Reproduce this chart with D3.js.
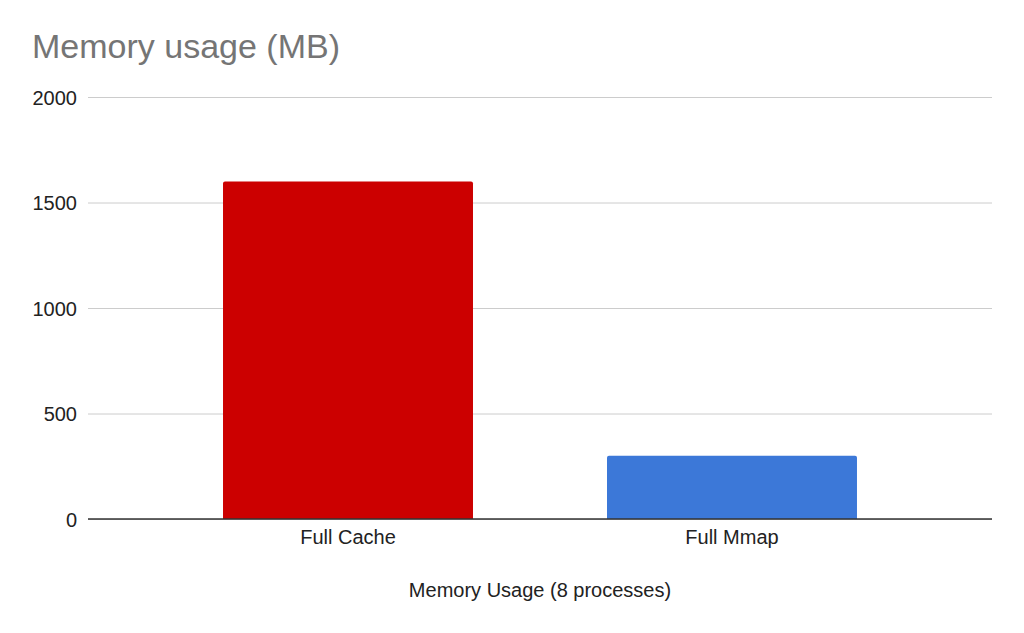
<!DOCTYPE html>
<html lang="en">
<head>
<meta charset="utf-8" />
<title>Memory usage (MB)</title>
<script src="https://d3js.org/d3.v7.min.js"></script>
<style>
  body { margin: 0; background: #fff; }
  svg { display: block; font-family: "Liberation Sans", Arial, sans-serif; }
  .grid line { stroke: #cccccc; stroke-width: 1; }
  .grid path { display: none; }
  .yaxis path, .yaxis line { display: none; }
  .yaxis text { fill: #222; font-size: 20px; }
  .xaxis path, .xaxis line { display: none; }
  .xaxis text { fill: #222; font-size: 20px; }
</style>
</head>
<body>
<svg width="1024" height="633"></svg>
<script>
// data
var categories = ["Full Cache", "Full Mmap"];
var values = [1600, 300];
var colors = ["#cc0000", "#3c78d8"];
var yTicks = [0, 500, 1000, 1500, 2000];

var svg = d3.select("svg"),
    plotLeft = 88, plotRight = 992, plotTop = 97, plotBottom = 519;

var x = d3.scaleBand().domain(categories).range([plotLeft, plotRight])
    .paddingInner(0.349).paddingOuter(0.3516);
var y = d3.scaleLinear().domain([0, 2000]).range([plotBottom, plotTop]);

// title
svg.append("text")
   .attr("x", 32).attr("y", 58)
   .attr("fill", "#757575")
   .style("font-size", "34px")
   .text("Memory usage (MB)");

// gridlines
svg.append("g").attr("class", "grid")
   .attr("transform", "translate(" + plotLeft + ",0)")
   .call(d3.axisLeft(y).tickValues(yTicks).tickSize(-(plotRight - plotLeft)).tickFormat(""));

// y labels
svg.append("g").attr("class", "yaxis")
   .attr("transform", "translate(" + (plotLeft - 11) + ",0)")
   .call(d3.axisLeft(y).tickValues(yTicks).tickSize(0).tickPadding(0).tickFormat(d3.format("d")))
   .selectAll("text").attr("dy", "0.35em");

// bars with rounded top corners
var r = 2;
svg.selectAll(".bar")
   .data(values)
   .enter().append("path")
   .attr("class", "bar")
   .attr("fill", function(d, i) { return colors[i]; })
   .attr("d", function(d, i) {
     var x0 = x(categories[i]), x1 = x0 + x.bandwidth(), y0 = y(d), y1 = y(0);
     return "M" + x0 + "," + y1 + "V" + (y0 + r) +
            "Q" + x0 + "," + y0 + " " + (x0 + r) + "," + y0 +
            "H" + (x1 - r) + "Q" + x1 + "," + y0 + " " + x1 + "," + (y0 + r) +
            "V" + y1 + "Z";
   });

// baseline
svg.append("line")
   .attr("x1", plotLeft).attr("x2", plotRight)
   .attr("y1", y(0)).attr("y2", y(0))
   .attr("stroke", "#333").attr("stroke-width", 1.3);

// x labels
svg.append("g").attr("class", "xaxis")
   .attr("transform", "translate(0," + plotBottom + ")")
   .call(d3.axisBottom(x).tickSize(0).tickPadding(11));

// x axis title
svg.append("text")
   .attr("x", (plotLeft + plotRight) / 2)
   .attr("y", 597)
   .attr("text-anchor", "middle")
   .attr("fill", "#222")
   .style("font-size", "20px")
   .text("Memory Usage (8 processes)");
</script>
</body>
</html>
